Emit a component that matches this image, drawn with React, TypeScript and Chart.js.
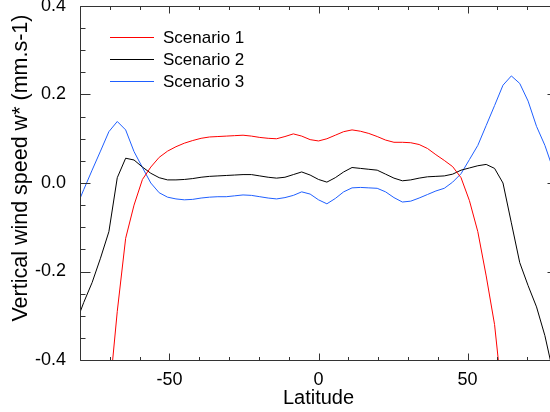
import React, { useEffect, useRef } from 'react';
import { Chart, registerables } from 'chart.js';

Chart.register(...registerables);

const FONT = '"Liberation Sans", Arial, Helvetica, sans-serif';

const latitudes = [
  -81.56, -78.75, -75.94, -73.13, -70.31, -67.5, -64.69, -61.88, -59.06, -56.25,
  -53.44, -50.63, -47.81, -45.0, -42.19, -39.38, -36.56, -33.75, -30.94, -28.13,
  -25.31, -22.5, -19.69, -16.88, -14.06, -11.25, -8.44, -5.63, -2.81, 0,
  2.81, 5.63, 8.44, 11.25, 14.06, 16.88, 19.69, 22.5, 25.31, 28.13,
  30.94, 33.75, 36.56, 39.38, 42.19, 45.0, 47.81, 50.63, 53.44, 56.25,
  59.06, 61.88, 64.69, 67.5, 70.31, 73.13, 75.94, 78.75, 81.56,
];

const scenario1 = [
  -2.0, -1.6, -1.2, -0.85, -0.49, -0.29, -0.125, -0.05, 0.008, 0.036,
  0.058, 0.072, 0.082, 0.09, 0.096, 0.101, 0.104, 0.105, 0.106, 0.107,
  0.108, 0.106, 0.103, 0.101, 0.1, 0.105, 0.111, 0.106, 0.098, 0.095,
  0.1, 0.108, 0.116, 0.12, 0.117, 0.112, 0.105, 0.097, 0.092, 0.092,
  0.091, 0.087, 0.078, 0.064, 0.051, 0.037, 0.012, -0.04, -0.11, -0.21,
  -0.32, -0.5, -0.75, -1.05, -1.4, -1.75, -2.1, -2.4, -2.7,
];

const scenario2 = [
  -0.32, -0.27, -0.225, -0.17, -0.11, 0.012, 0.056, 0.052, 0.036, 0.022,
  0.012, 0.007, 0.007, 0.008, 0.01, 0.013, 0.015, 0.016, 0.017, 0.018,
  0.019, 0.019, 0.016, 0.013, 0.011, 0.013, 0.019, 0.025, 0.018, 0.008,
  0.002, 0.012, 0.025, 0.035, 0.033, 0.031, 0.029, 0.02, 0.011, 0.005,
  0.007, 0.011, 0.014, 0.015, 0.016, 0.02, 0.029, 0.034, 0.039, 0.042,
  0.033, 0.0, -0.09, -0.18, -0.232, -0.28, -0.345, -0.43, -0.52,
];

const scenario3 = [
  -0.06, -0.015, 0.029, 0.072, 0.116, 0.139, 0.12, 0.071, 0.035, 0.0,
  -0.022, -0.032, -0.036, -0.038, -0.037, -0.034, -0.032, -0.031, -0.031, -0.029,
  -0.027, -0.028, -0.031, -0.034, -0.036, -0.033, -0.028, -0.02, -0.025, -0.038,
  -0.047, -0.035, -0.02, -0.011, -0.01, -0.011, -0.012, -0.02, -0.033, -0.043,
  -0.041, -0.034, -0.026, -0.018, -0.012, 0.002, 0.021, 0.053, 0.085, 0.13,
  0.175, 0.221, 0.242, 0.225, 0.185, 0.128, 0.085, 0.03, -0.02,
];

const seriesLabels = ['Scenario 1', 'Scenario 2', 'Scenario 3'];
const seriesColors = ['#ff0000', '#000000', '#1f5fff'];

const xMajorTicks = [-50, 0, 50];
const yMajorTicks = [-0.4, -0.2, 0, 0.2, 0.4];

const xTitle = 'Latitude';
const yTitle = 'Vertical wind speed w* (mm.s-1)';

const isMajor = (v: number, majors: number[]) => majors.some((m) => Math.abs(m - v) < 1e-6);

const frameAndLegend = {
  id: 'frameAndLegend',
  afterDatasetsDraw(chart: any) {
    const { ctx, chartArea: a, scales } = chart;
    const xs = scales.x;
    const ys = scales.y;
    ctx.save();
    ctx.strokeStyle = '#333333';
    ctx.lineWidth = 1;
    const L = Math.round(a.left) + 0.5;
    const T = Math.round(a.top) + 0.5;
    const R = Math.round(a.right) + 0.5;
    const B = Math.round(a.bottom) + 0.5;
    ctx.beginPath();
    ctx.rect(L, T, R - L, B - T);
    xs.ticks.forEach((t: any) => {
      const px = Math.round(xs.getPixelForValue(t.value)) + 0.5;
      const len = isMajor(t.value, xMajorTicks) ? 7 : 3.5;
      ctx.moveTo(px, B);
      ctx.lineTo(px, B - len);
      ctx.moveTo(px, T);
      ctx.lineTo(px, T + len);
    });
    ys.ticks.forEach((t: any) => {
      const py = Math.round(ys.getPixelForValue(t.value)) + 0.5;
      const len = isMajor(t.value, yMajorTicks) ? 10 : 5;
      ctx.moveTo(L, py);
      ctx.lineTo(L + len, py);
      ctx.moveTo(R, py);
      ctx.lineTo(R - len, py);
    });
    ctx.stroke();

    // legend built from the datasets
    ctx.font = `17px ${FONT}`;
    ctx.textBaseline = 'middle';
    ctx.textAlign = 'left';
    chart.data.datasets.forEach((ds: any, i: number) => {
      const yRow = Math.round(a.top + 30.7 + i * 22.2) + 0.5;
      ctx.strokeStyle = ds.borderColor;
      ctx.lineWidth = 1;
      ctx.beginPath();
      ctx.moveTo(a.left + 30, yRow);
      ctx.lineTo(a.left + 74, yRow);
      ctx.stroke();
      ctx.fillStyle = '#000000';
      ctx.fillText(ds.label, a.left + 83, yRow + 0.5);
    });
    ctx.restore();
  },
};

export default function App() {
  const ref = useRef<HTMLCanvasElement | null>(null);

  useEffect(() => {
    if (!ref.current) return;
    const series = [scenario1, scenario2, scenario3];
    const chart = new Chart(ref.current, {
      type: 'line',
      data: {
        labels: latitudes,
        datasets: series.map((s, i) => ({
          label: seriesLabels[i],
          data: s.map((v, j) => ({ x: latitudes[j], y: v })),
          borderColor: seriesColors[i],
          backgroundColor: seriesColors[i],
          borderWidth: 1,
          pointRadius: 0,
          tension: 0,
          fill: false,
          clip: 0,
        })),
      },
      options: {
        responsive: false,
        animation: false,
        events: [],
        layout: { padding: { top: 6, right: 13, left: 0, bottom: 0 } },
        plugins: {
          legend: { display: false },
          tooltip: { enabled: false },
        },
        scales: {
          x: {
            type: 'linear',
            min: -80,
            max: 80,
            grid: { display: false },
            border: { display: false },
            ticks: {
              stepSize: 10,
              autoSkip: false,
              maxRotation: 0,
              padding: 1,
              color: '#000000',
              font: { family: FONT, size: 18 },
              callback: (v: any) => {
                const n = Number(v);
                return isMajor(n, xMajorTicks) ? String(Math.round(n)) : '';
              },
            },
            title: {
              display: true,
              text: xTitle,
              color: '#000000',
              font: { family: FONT, size: 20 },
              padding: { top: 0, bottom: 2 },
            },
            afterFit: (s: any) => {
              s.height = 52;
              s.paddingLeft = 0;
              s.paddingRight = 0;
            },
          },
          y: {
            type: 'linear',
            min: -0.4,
            max: 0.4,
            grid: { display: false },
            border: { display: false },
            ticks: {
              stepSize: 0.05,
              autoSkip: false,
              padding: 6,
              color: '#000000',
              font: { family: FONT, size: 18 },
              callback: (v: any) => {
                const n = Math.round(Number(v) * 100) / 100;
                if (!isMajor(n, yMajorTicks)) return '';
                const s = n.toFixed(1);
                return s === '-0.0' ? '0.0' : s;
              },
            },
            title: {
              display: true,
              text: '     ' + yTitle,
              color: '#000000',
              font: { family: FONT, size: 21.5 },
              padding: { top: 8, bottom: 0 },
            },
            afterFit: (s: any) => {
              s.width = 80;
              s.paddingTop = 0;
              s.paddingBottom = 0;
            },
          },
        },
      },
      plugins: [frameAndLegend],
    });
    return () => chart.destroy();
  }, []);

  return (
    <div
      style={{
        position: 'absolute',
        left: 0,
        top: 0,
        width: 550,
        height: 412,
        overflow: 'hidden',
        background: '#ffffff',
      }}
    >
      <canvas ref={ref} width={570} height={412} style={{ width: 570, height: 412, display: 'block' }} />
    </div>
  );
}
